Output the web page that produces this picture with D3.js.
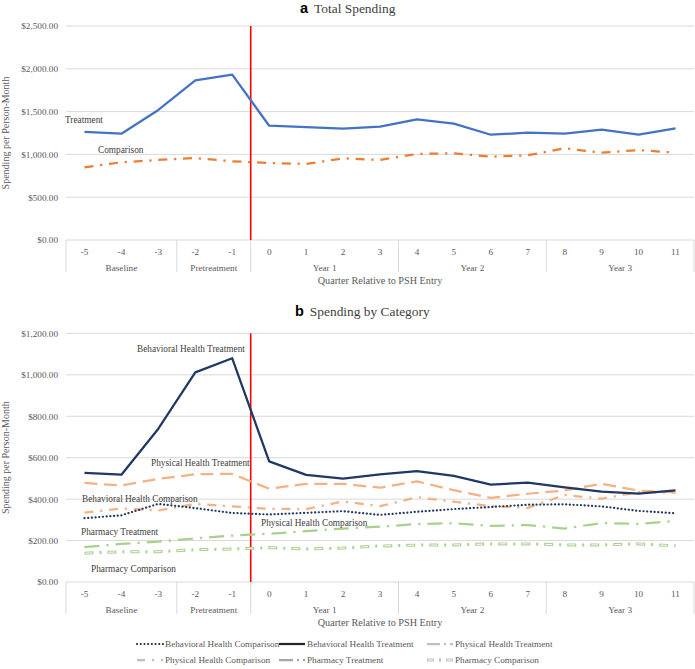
<!DOCTYPE html>
<html>
<head>
<meta charset="utf-8">
<script src="https://cdn.jsdelivr.net/npm/d3@7"></script>
<style>
  html, body { margin: 0; padding: 0; background: #fff; }
  svg { display: block; }
</style>
</head>
<body>
<svg id="chart" width="695" height="669"></svg>
<script>
// ---------------- DATA ----------------
const quarters = [-5, -4, -3, -2, -1, 0, 1, 2, 3, 4, 5, 6, 7, 8, 9, 10, 11];
const groupNames = ["Baseline", "Pretreatment", "Year 1", "Year 2", "Year 3"];
const groupSizes = [3, 2, 4, 4, 4];
const entryQuarter = 0;

// Panel a: Total spending
const totalTicks = [0, 500, 1000, 1500, 2000, 2500];
const totalTreatment = [1262, 1242, 1519, 1866, 1931, 1335, 1320, 1300, 1324, 1410, 1359, 1230, 1254, 1242, 1289, 1230, 1305];
const totalComparison = [849, 908, 935, 958, 919, 900, 888, 954, 935, 1005, 1013, 973, 990, 1071, 1020, 1051, 1020];

// Panel b: Spending by category
const catTicks = [0, 200, 400, 600, 800, 1000, 1200];
const behavioralTreatment = [527, 518, 740, 1012, 1080, 582, 517, 499, 520, 535, 512, 470, 480, 457, 436, 427, 442];
const physicalTreatment = [478, 466, 498, 520, 522, 450, 474, 474, 455, 486, 443, 406, 426, 442, 474, 441, 433];
const physicalComparison = [335, 355, 345, 377, 365, 353, 352, 389, 366, 409, 388, 366, 358, 420, 402, 434, 431];
const behavioralComparison = [308, 322, 377, 357, 333, 326, 334, 342, 324, 339, 352, 362, 373, 375, 365, 343, 332];
const pharmacyTreatment = [168, 184, 195, 210, 224, 233, 245, 258, 267, 280, 284, 271, 275, 258, 285, 280, 295];
const pharmacyComparison = [139, 146, 146, 156, 159, 166, 159, 164, 174, 178, 179, 184, 184, 179, 179, 184, 175];

// ---------------- DRAW ----------------
const SERIF = '"Liberation Serif", "Times New Roman", serif';
const SANS = '"Liberation Sans", Arial, sans-serif';
const svg = d3.select("#chart");
const fmt = d3.format("$,.2f");

const x = d3.scaleBand().domain(quarters).range([66, 694]).padding(0);

function panel(cfg) {
  const g = svg.append("g");
  const y = d3.scaleLinear().domain(cfg.domain).range([cfg.bottom, cfg.top]);

  // gridlines
  g.append("g").selectAll("line").data(cfg.ticks).join("line")
    .attr("x1", x.range()[0]).attr("x2", x.range()[1])
    .attr("y1", d => y(d)).attr("y2", d => y(d))
    .attr("stroke", "#d9d9d9").attr("stroke-width", 1);

  // y axis labels
  const ya = g.append("g").attr("transform", "translate(60,0)")
    .call(d3.axisLeft(y).tickValues(cfg.ticks).tickFormat(fmt).tickSize(0).tickPadding(2));
  ya.select(".domain").remove();
  ya.selectAll("text").attr("font-family", SERIF).attr("font-size", 9.2).attr("fill", "#595959");

  // y title
  g.append("text")
    .attr("transform", `translate(9,${(cfg.top + cfg.bottom) / 2}) rotate(-90)`)
    .attr("text-anchor", "middle").attr("font-family", SERIF).attr("font-size", 10)
    .attr("fill", "#595959").text("Spending per Person-Month");

  // x category labels
  const bw = x.bandwidth();
  g.append("g").selectAll("text").data(quarters).join("text")
    .attr("x", d => x(d) + bw / 2).attr("y", cfg.bottom + 14.5)
    .attr("text-anchor", "middle").attr("font-family", SERIF).attr("font-size", 9.2)
    .attr("fill", "#595959").text(d => d);

  // group separators and labels
  let idx = 0;
  const bounds = [0];
  groupSizes.forEach(s => { idx += s; bounds.push(idx); });
  g.append("g").selectAll("line").data(bounds).join("line")
    .attr("x1", d => x.range()[0] + d * bw).attr("x2", d => x.range()[0] + d * bw)
    .attr("y1", cfg.bottom).attr("y2", cfg.bottom + 32)
    .attr("stroke", "#d9d9d9").attr("stroke-width", 1);
  g.append("g").selectAll("text").data(groupNames).join("text")
    .attr("x", (d, i) => x.range()[0] + (bounds[i] + bounds[i + 1]) / 2 * bw)
    .attr("y", cfg.bottom + 30.5)
    .attr("text-anchor", "middle").attr("font-family", SERIF).attr("font-size", 9.2)
    .attr("fill", "#595959").text(d => d);

  // x title
  g.append("text").attr("x", (x.range()[0] + x.range()[1]) / 2).attr("y", cfg.bottom + 43.5)
    .attr("text-anchor", "middle").attr("font-family", SERIF).attr("font-size", 10.2)
    .attr("fill", "#595959").text("Quarter Relative to PSH Entry");

  // title
  const t = g.append("text").attr("y", cfg.titleY).attr("x", cfg.titleX);
  t.append("tspan").attr("font-family", SANS).attr("font-weight", "bold").attr("font-size", 14.5)
    .attr("fill", "#000").text(cfg.letter);
  t.append("tspan").attr("dx", 6).attr("font-family", SERIF).attr("font-size", 13.4)
    .attr("fill", "#404040").text(cfg.title);

  // red PSH entry line
  const xe = x(entryQuarter);
  g.append("line").attr("x1", xe).attr("x2", xe).attr("y1", cfg.top).attr("y2", cfg.bottom)
    .attr("stroke", "#ff0000").attr("stroke-width", 1.6);

  const line = d3.line().x((d, i) => x(quarters[i]) + bw / 2).y(d => y(d));
  cfg.series.forEach(s => {
    g.append("path").datum(s.values).attr("d", line).attr("fill", "none")
      .attr("stroke", s.color).attr("stroke-width", s.width)
      .attr("stroke-dasharray", s.dash || null)
      .attr("stroke-linecap", s.cap || "butt").attr("stroke-linejoin", "round");
    if (s.hollow) {
      g.append("path").datum(s.values).attr("d", line).attr("fill", "none")
        .attr("stroke", "#fff").attr("stroke-width", 1)
        .attr("stroke-dasharray", s.hollow).attr("stroke-dashoffset", -1.2);
    }
  });

  cfg.labels.forEach(l => {
    g.append("text").attr("x", l.x).attr("y", l.y).attr("font-family", SERIF)
      .attr("font-size", 9.3).attr("fill", "#404040").text(l.text);
  });
  return y;
}

panel({
  domain: [0, 2500], top: 26, bottom: 240, ticks: totalTicks,
  letter: "a", title: "Total Spending", titleX: 300, titleY: 12.5,
  series: [
    { values: totalTreatment, color: "#4472c4", width: 2.25 },
    { values: totalComparison, color: "#ed7d31", width: 2.25, dash: "9,6.75,2.25,6.75" }
  ],
  labels: [
    { text: "Treatment", x: 65, y: 123 },
    { text: "Comparison", x: 98, y: 153 }
  ]
});

const NAVY = "#203864", ORANGE = "#f4b183", GREEN = "#a9d18e";
panel({
  domain: [0, 1200], top: 333.4, bottom: 582, ticks: catTicks,
  letter: "b", title: "Spending by Category", titleX: 295, titleY: 316,
  series: [
    { values: pharmacyComparison, color: GREEN, width: 3, dash: "9,6,2,6", hollow: "6.6,16.4" },
    { values: pharmacyTreatment, color: GREEN, width: 2.25, dash: "15,7,2.25,7" },
    { values: physicalComparison, color: ORANGE, width: 2.25, dash: "9,6.75,2.25,6.75" },
    { values: physicalTreatment, color: ORANGE, width: 2.25, dash: "13,6.5" },
    { values: behavioralComparison, color: NAVY, width: 2.2, dash: "0.1,3.6", cap: "round" },
    { values: behavioralTreatment, color: NAVY, width: 2.25 }
  ],
  labels: [
    { text: "Behavioral Health Treatment", x: 137, y: 352 },
    { text: "Physical Health Treatment", x: 151, y: 466 },
    { text: "Behavioral Health Comparison", x: 82, y: 502 },
    { text: "Physical Health Comparison", x: 261, y: 526 },
    { text: "Pharmacy Treatment", x: 81, y: 535 },
    { text: "Pharmacy Comparison", x: 91, y: 572 }
  ]
});

// ---------------- LEGEND ----------------
const legendItems = [
  { text: "Behavioral Health Comparison", color: "#262626", width: 2, dash: "0.1,3.6", cap: "round" },
  { text: "Behavioral Health Treatment", color: "#262626", width: 2.25 },
  { text: "Physical Health Treatment", color: "#bfbfbf", width: 2.25, dash: "13,4,2,4" },
  { text: "Physical Health Comparison", color: "#bfbfbf", width: 2.25, dash: "8,7,2,7" },
  { text: "Pharmacy Treatment", color: "#a6a6a6", width: 2.25, dash: "14,4,2,4" },
  { text: "Pharmacy Comparison", color: "#bfbfbf", width: 3, dash: "7,5,2,5", hollow: "5,14" }
];
const legCols = [137, 279, 427];
const legRows = [647, 663];
const lg = svg.append("g");
legendItems.forEach((it, i) => {
  const cx = legCols[i % 3], cy = legRows[Math.floor(i / 3)];
  lg.append("line").attr("x1", cx).attr("x2", cx + 26).attr("y1", cy - 3).attr("y2", cy - 3)
    .attr("stroke", it.color).attr("stroke-width", it.width)
    .attr("stroke-dasharray", it.dash || null).attr("stroke-linecap", it.cap || "butt");
  if (it.hollow) {
    lg.append("line").attr("x1", cx).attr("x2", cx + 26).attr("y1", cy - 3).attr("y2", cy - 3)
      .attr("stroke", "#fff").attr("stroke-width", 1)
      .attr("stroke-dasharray", it.hollow).attr("stroke-dashoffset", -1);
  }
  lg.append("text").attr("x", cx + 28).attr("y", cy).attr("font-family", SERIF)
    .attr("font-size", 9.2).attr("fill", "#595959").text(it.text);
});
</script>
</body>
</html>
